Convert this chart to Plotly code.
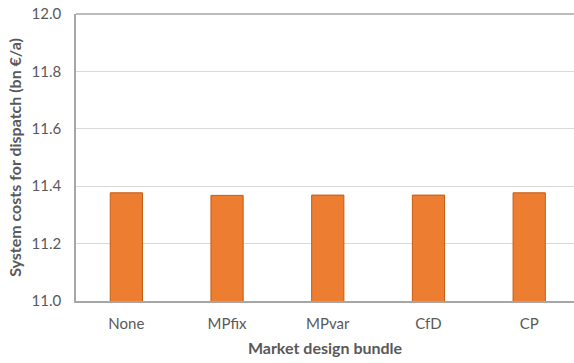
import plotly.graph_objects as go

categories = ["None", "MPfix", "MPvar", "CfD", "CP"]
costs = [11.377, 11.368, 11.369, 11.369, 11.377]
y_ticks = [11.0, 11.2, 11.4, 11.6, 11.8, 12.0]

fig = go.Figure(go.Bar(
    x=categories, y=costs,
    marker=dict(color="#ED7D31", line=dict(color="#C55A11", width=1)),
))

font_family = "Lato, 'Open Sans', sans-serif"
fig.update_layout(
    width=574, height=363,
    margin=dict(l=76, r=0, t=14, b=62),
    paper_bgcolor="white", plot_bgcolor="white",
    bargap=0.68,
    showlegend=False,
    font=dict(family=font_family, color="#595959", size=15),
    shapes=[dict(type="line", xref="paper", yref="paper", x0=0, x1=1, y0=1, y1=1,
                 line=dict(color="#A6A6A6", width=1.5))],
)
fig.update_xaxes(
    type="category", range=[-0.5, 4.445],
    showline=True, linecolor="#A6A6A6", linewidth=1.5,
    ticks="outside", ticklen=8, tickcolor="rgba(0,0,0,0)", showgrid=False,
    tickfont=dict(size=15, color="#595959"),
    title=dict(text="<b>Market design bundle</b>", font=dict(size=16, color="#595959"), standoff=12),
)
fig.update_yaxes(
    range=[11.0, 12.0], tickvals=y_ticks, tickformat=".1f",
    showline=True, linecolor="#A6A6A6", linewidth=1.5,
    showgrid=True, gridcolor="#D9D9D9", gridwidth=1,
    zeroline=False, ticks="outside", ticklen=10, tickcolor="rgba(0,0,0,0)",
    tickfont=dict(size=15, color="#595959"),
    title=dict(text="<b>System costs for dispatch (bn €/a)</b>", font=dict(size=16, color="#595959"), standoff=6),
)
fig.write_html("out.html")
